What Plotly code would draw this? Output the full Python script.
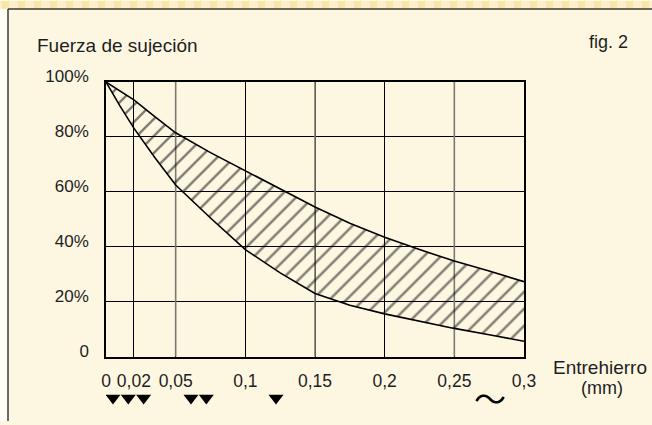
import plotly.graph_objects as go

# ---------------- data ----------------
gap_mm = [0, 0.01, 0.02, 0.035, 0.05, 0.075, 0.1, 0.125, 0.15, 0.175, 0.2, 0.225, 0.25, 0.275, 0.3]
force_upper = [100, 96.7, 93.5, 87.4, 81.5, 74.3, 67.7, 60.9, 54.5, 48.6, 43.5, 39.0, 34.8, 31.2, 27.3]
force_lower = [100, 91.3, 83.2, 72.5, 62.5, 50.5, 39.0, 30.5, 23.0, 18.7, 15.6, 13.0, 10.3, 8.0, 5.6]

marker_x = [0.005, 0.016, 0.027, 0.061, 0.072, 0.122]
marker_y = [-15, -15, -15, -15, -15, -15]

x_ticks = [0, 0.02, 0.05, 0.1, 0.15, 0.2, 0.25, 0.3]
x_tick_labels = ["0", "0,02", "0,05", "0,1", "0,15", "0,2", "0,25", "0,3"]
gray_grid_x = [0.05, 0.15, 0.25]
y_ticks = [0, 20, 40, 60, 80, 100]
y_tick_labels = ["0", "20%", "40%", "60%", "80%", "100%"]

FONT = "Liberation Sans, Arial, Helvetica, sans-serif"
TXT = "#1e1e1e"
CREAM = "#FDF7E2"

# geometry (pixels)
W, H = 652, 425
ML, MR, MT, MB = 106, 128, 82, 5
PW, PH = W - ML - MR, H - MT - MB
AXIS_BOTTOM = 360          # pixel row of the x axis
STRIP_TOP, STRIP_BOTTOM = 390, 415   # strip holding the triangle markers
PX_PER_UNIT = (AXIS_BOTTOM - MT) / 100.0


def px(xp):
    return (xp - ML) / PW


def py(yp):
    return (H - MB - yp) / PH


fig = go.Figure()

fig.add_trace(go.Scatter(
    x=gap_mm, y=force_lower, mode="lines",
    line=dict(color="black", width=1.6), showlegend=False, hoverinfo="skip"))
fig.add_trace(go.Scatter(
    x=gap_mm, y=force_upper, mode="lines", fill="tonexty",
    fillcolor="rgba(0,0,0,0)",
    fillpattern=dict(shape="/", fgcolor="black", bgcolor="rgba(0,0,0,0)",
                     size=12, solidity=0.2),
    line=dict(color="black", width=1.6), showlegend=False, hoverinfo="skip"))

fig.add_trace(go.Scatter(
    x=marker_x, y=marker_y, mode="markers", xaxis="x2", yaxis="y2",
    marker=dict(symbol="triangle-down", size=13, color="black"),
    showlegend=False, hoverinfo="skip"))

shapes = []
# decorative frame: top striped band, left pale strip, dark border
shapes.append(dict(type="rect", xref="paper", yref="paper", layer="below",
                   x0=px(0), x1=px(W), y0=py(0), y1=py(8),
                   fillcolor="#FBF0C8", line=dict(width=0)))
for i in range(0, W, 16):
    shapes.append(dict(type="rect", xref="paper", yref="paper", layer="below",
                       x0=px(i + 2), x1=px(i + 9), y0=py(0), y1=py(8),
                       fillcolor="#F8DE8C", opacity=0.6, line=dict(width=0)))
shapes.append(dict(type="rect", xref="paper", yref="paper", layer="below",
                   x0=px(0), x1=px(8), y0=py(8), y1=py(H),
                   fillcolor="#FEFCF4", line=dict(width=0)))
shapes.append(dict(type="line", xref="paper", yref="paper",
                   x0=px(8), x1=px(8), y0=py(8), y1=py(H),
                   line=dict(color="#3a3a3a", width=1.5)))
shapes.append(dict(type="line", xref="paper", yref="paper",
                   x0=px(8), x1=px(W), y0=py(8), y1=py(8),
                   line=dict(color="#3a3a3a", width=1.5)))
# lighter vertical grid lines
for gx in gray_grid_x:
    shapes.append(dict(type="line", xref="x", yref="y", layer="between",
                       x0=gx, x1=gx, y0=0, y1=100,
                       line=dict(color="#7a7a72", width=1.6)))

annotations = [
    dict(text="Fuerza de sujeción", xref="paper", yref="paper",
         x=px(35), y=py(45), xanchor="left", yanchor="middle",
         showarrow=False, font=dict(size=19, color=TXT, family=FONT)),
    dict(text="fig. 2", xref="paper", yref="paper",
         x=px(630), y=py(42), xanchor="right", yanchor="middle",
         showarrow=False, font=dict(size=18, color=TXT, family=FONT)),
    dict(text="Entrehierro", xref="paper", yref="paper",
         x=px(600), y=py(371), xanchor="center", yanchor="middle",
         showarrow=False, font=dict(size=19, color=TXT, family=FONT)),
    dict(text="(mm)", xref="paper", yref="paper",
         x=px(602), y=py(392), xanchor="center", yanchor="middle",
         showarrow=False, font=dict(size=18, color=TXT, family=FONT)),
    dict(text="〜", xref="paper", yref="paper",
         x=px(490), y=py(401), xanchor="center", yanchor="middle",
         showarrow=False,
         font=dict(size=32, color="black", family="Noto Sans CJK JP")),
]

main_bottom = py(AXIS_BOTTOM)
strip_lo = py(STRIP_BOTTOM)
strip_hi = py(STRIP_TOP)
strip_range = [(AXIS_BOTTOM - STRIP_BOTTOM) / PX_PER_UNIT,
               (AXIS_BOTTOM - STRIP_TOP) / PX_PER_UNIT]

fig.update_layout(
    width=W, height=H,
    margin=dict(l=ML, r=MR, t=MT, b=MB),
    paper_bgcolor=CREAM, plot_bgcolor=CREAM,
    shapes=shapes, annotations=annotations,
    font=dict(family=FONT, color=TXT),
    xaxis=dict(range=[0, 0.3], tickvals=x_ticks, ticktext=x_tick_labels,
               domain=[0, 1], anchor="y",
               showgrid=True, gridcolor="black", gridwidth=1.2,
               showline=True, linecolor="black", linewidth=1.5, mirror=True,
               zeroline=False, ticks="", ticklabelstandoff=8,
               tickfont=dict(size=17.5, color=TXT, family=FONT)),
    yaxis=dict(range=[0, 100], tickvals=y_ticks, ticktext=y_tick_labels,
               domain=[main_bottom, 1], anchor="x",
               showgrid=True, gridcolor="black", gridwidth=1.2,
               showline=True, linecolor="black", linewidth=1.5, mirror=True,
               zeroline=False, ticks="", ticklabelstandoff=12,
               ticklabelshift=-6,
               tickfont=dict(size=17, color=TXT, family=FONT)),
    xaxis2=dict(range=[0, 0.3], domain=[0, 1], anchor="y2", matches="x",
                visible=False),
    yaxis2=dict(range=strip_range, domain=[strip_lo, strip_hi], anchor="x2",
                visible=False),
)

fig.write_html("out.html", config={"displayModeBar": False},
               post_script="document.body.style.margin='0px';")
